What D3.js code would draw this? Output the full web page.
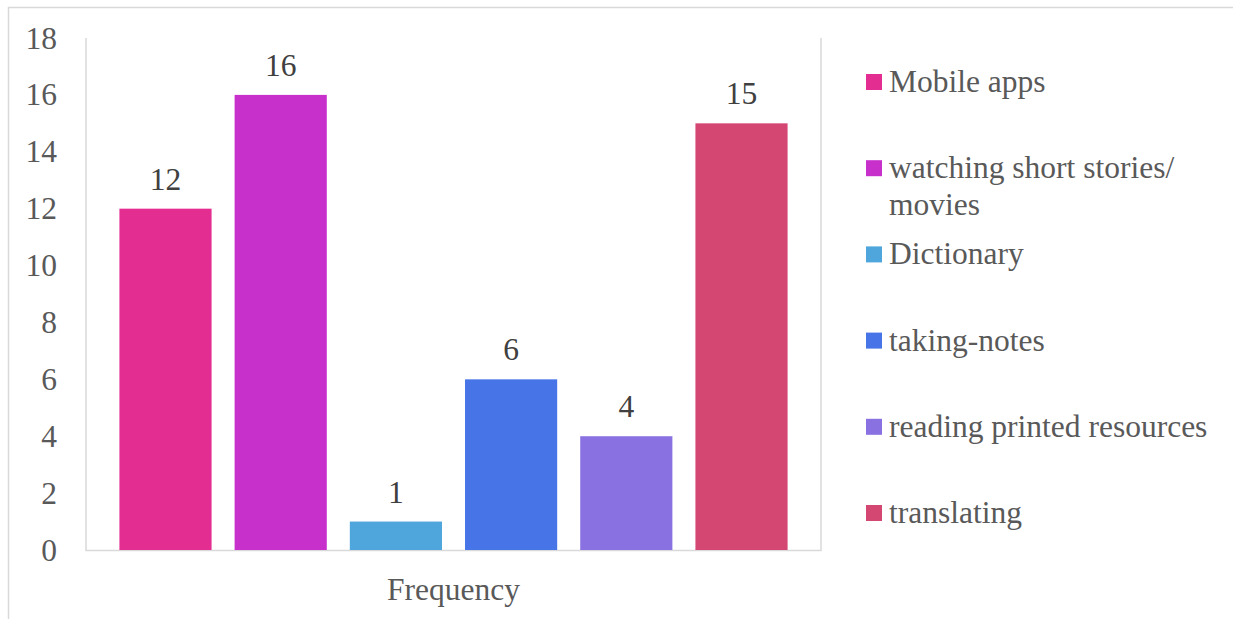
<!DOCTYPE html>
<html>
<head>
<meta charset="utf-8">
<script src="https://cdn.jsdelivr.net/npm/d3@7"></script>
<style>
  body { margin: 0; background: #fff; }
  svg text { font-family: "Times New Roman", Times, "Liberation Serif", "DejaVu Serif", serif; }
</style>
</head>
<body>
<svg id="svg"></svg>
<script>
// chart values
const categories = ["Mobile apps", "watching short stories/ movies", "Dictionary", "taking-notes", "reading printed resources", "translating"];
const legendLines = [["Mobile apps"], ["watching short stories/", "movies"], ["Dictionary"], ["taking-notes"], ["reading printed resources"], ["translating"]];
const values = [12, 16, 1, 6, 4, 15];
const colours = ["#E32D91", "#C830CC", "#4EA6DC", "#4775E7", "#8971E1", "#D54773"];
const yTicks = [0, 2, 4, 6, 8, 10, 12, 14, 16, 18];
const xTitle = "Frequency";

const width = 1233;
const height = 619;
const fontSize = "31.5px";

let svg = d3.select("#svg")
    .attr("width", width)
    .attr("height", height);

// plot area
const plot = { left: 86, right: 821, top: 38, bottom: 550 };

let xScale = d3.scaleBand()
    .domain(categories)
    .range([plot.left, plot.right])
    .paddingInner(0.2)
    .paddingOuter(0.29);

let yScale = d3.scaleLinear()
    .domain([0, 18])
    .range([plot.bottom, plot.top]);

// outer chart frame (top and left edges visible)
svg.append("path")
    .attr("d", "M8.5," + height + " V7.5 H" + width)
    .attr("fill", "none")
    .attr("stroke", "#d9d9d9")
    .attr("stroke-width", 1.5);

// plot area border: left, bottom, right
svg.append("path")
    .attr("d", `M${plot.left},${plot.top} V${plot.bottom + 0.5} H${plot.right} V${plot.top}`)
    .attr("fill", "none")
    .attr("stroke", "#d9d9d9")
    .attr("stroke-width", 1.5);

// y axis labels
let yAxis = svg.append("g")
    .attr("transform", "translate(57,0)")
    .call(d3.axisLeft(yScale).tickValues(yTicks).tickSize(0).tickPadding(0));
yAxis.attr("font-family", null).attr("font-size", null);
yAxis.select(".domain").remove();
yAxis.selectAll("text")
    .attr("fill", "#595959")
    .style("font-size", fontSize);

// bars
svg.selectAll(".bar")
    .data(values)
    .enter().append("rect")
    .attr("class", "bar")
    .attr("x", (d, i) => xScale(categories[i]))
    .attr("y", d => yScale(d))
    .attr("width", xScale.bandwidth())
    .attr("height", d => yScale(0) - yScale(d))
    .attr("fill", (d, i) => colours[i]);

// data labels
svg.selectAll(".label")
    .data(values)
    .enter().append("text")
    .attr("class", "label")
    .attr("x", (d, i) => xScale(categories[i]) + xScale.bandwidth() / 2)
    .attr("y", d => yScale(d) - 19)
    .attr("text-anchor", "middle")
    .attr("fill", "#404040")
    .style("font-size", fontSize)
    .text(d => d);

// x axis title
svg.append("text")
    .attr("x", (plot.left + plot.right) / 2)
    .attr("y", 600)
    .attr("text-anchor", "middle")
    .attr("fill", "#595959")
    .style("font-size", fontSize)
    .text(xTitle);

// legend
const legendTop = 82;
const legendStep = 86.2;
let legend = svg.append("g");
legendLines.forEach((lines, i) => {
    let cy = legendTop + i * legendStep;
    legend.append("rect")
        .attr("x", 866)
        .attr("y", cy - 8)
        .attr("width", 16)
        .attr("height", 16)
        .attr("fill", colours[i]);
    let t = legend.append("text")
        .attr("x", 889)
        .attr("y", cy + 10)
        .attr("fill", "#595959")
        .style("font-size", fontSize);
    lines.forEach((line, j) => {
        t.append("tspan")
            .attr("x", 889)
            .attr("dy", j === 0 ? 0 : 37)
            .text(line);
    });
});
</script>
</body>
</html>
